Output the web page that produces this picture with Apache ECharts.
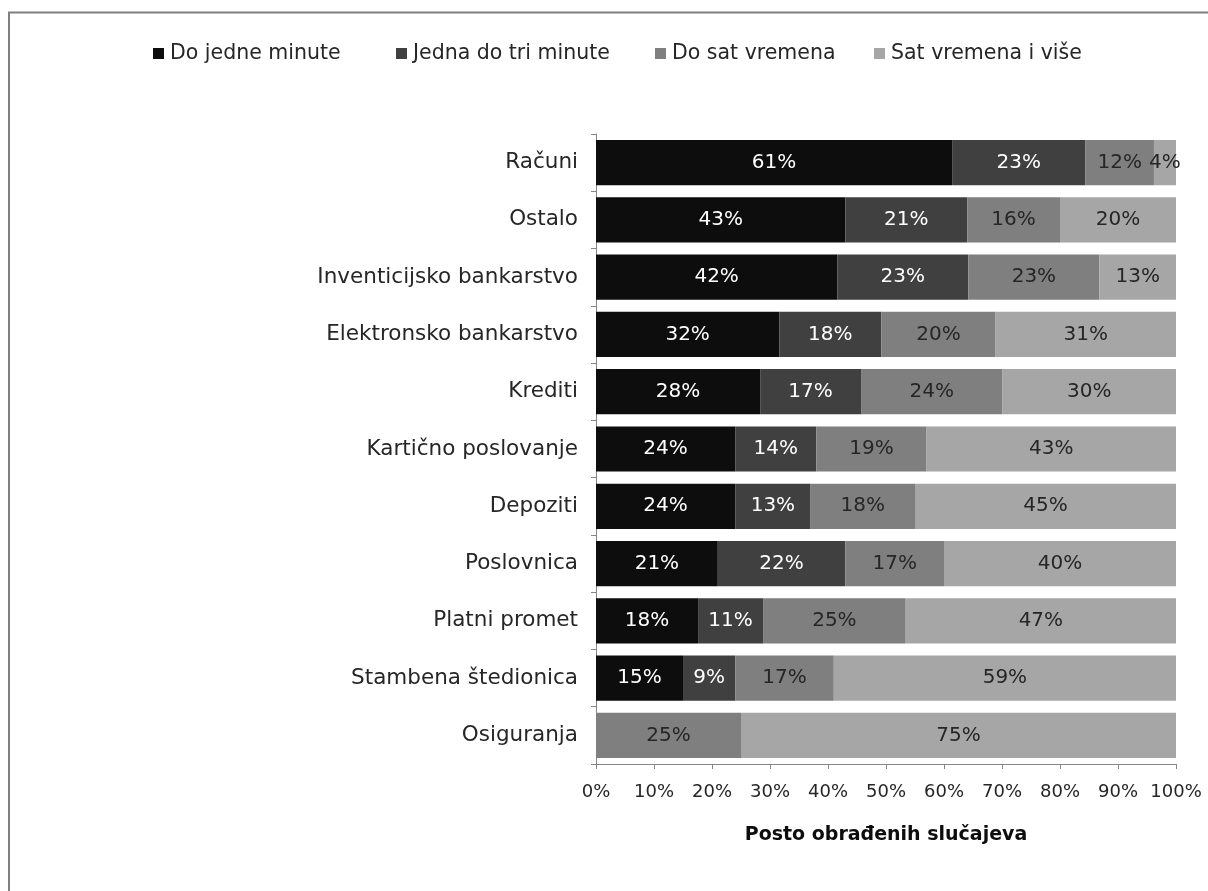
<!DOCTYPE html>
<html>
<head>
<meta charset="utf-8">
<script src="https://cdn.jsdelivr.net/npm/echarts@6/dist/echarts.min.js"></script>
<style>
html,body{margin:0;padding:0;background:#fff;}
#chart{width:1208px;height:891px;}
</style>
</head>
<body>
<div id="chart"></div>
<script>
const categories = ['Računi','Ostalo','Inventicijsko bankarstvo','Elektronsko bankarstvo','Krediti','Kartično poslovanje','Depoziti','Poslovnica','Platni promet','Stambena štedionica','Osiguranja'];
const seriesNames = ['Do jedne minute','Jedna do tri minute','Do sat vremena','Sat vremena i više'];
const doJedneMinute   = [61.4, 43, 41.6, 31.6, 28.3, 24, 24, 21, 17.6, 15, 0];
const jednaDoTri      = [23,   21, 22.6, 17.6, 17.4, 14, 13, 22, 11.2, 9,  0];
const doSatVremena    = [11.8, 16, 22.6, 19.7, 24.4, 19, 18, 17, 24.6, 17, 25];
const satVremenaIVise = [3.8,  20, 13.2, 31.1, 29.9, 43, 45, 40, 46.6, 59, 75];
const xTicks = [0,10,20,30,40,50,60,70,80,90,100];

const colors = ['#0d0d0d','#404040','#7f7f7f','#a6a6a6'];
const labelColors = ['#ffffff','#ffffff','#262626','#262626'];
const values = [doJedneMinute, jednaDoTri, doSatVremena, satVremenaIVise];
const FONT = 'DejaVu Sans';

const chart = echarts.init(document.getElementById('chart'));
const legendLefts = [148, 391, 650, 869];
chart.setOption({
  animation: false,
  backgroundColor: '#ffffff',
  textStyle: {fontFamily: FONT},
  graphic: [
    {type:'line', shape:{x1:8, y1:12.5, x2:1208, y2:12.5}, style:{stroke:'#7f7f7f', lineWidth:2}},
    {type:'line', shape:{x1:9, y1:12, x2:9, y2:891}, style:{stroke:'#7f7f7f', lineWidth:2}}
  ],
  legend: seriesNames.map((n,i)=>({
    data:[n], left: legendLefts[i], top: 38,
    itemWidth: 11, itemHeight: 11, itemGap: 6,
    icon: 'rect',
    textStyle:{fontFamily:FONT, fontSize:20.5, color:'#262626', padding:[0,0,0,1]}
  })),
  grid: {left: 596, right: 32, top: 134, bottom: 127, containLabel: false},
  xAxis: {
    type: 'value', min: xTicks[0], max: xTicks[xTicks.length-1], interval: 10,
    axisLine: {show: true, lineStyle: {color: '#868686', width: 1}},
    axisTick: {show: true, length: 5, lineStyle: {color: '#868686'}},
    splitLine: {show: false},
    axisLabel: {formatter: '{value}%', fontFamily: FONT, fontSize: 18, color: '#262626', margin: 19},
    name: 'Posto obrađenih slučajeva', nameLocation: 'middle', nameGap: 62,
    nameTextStyle: {fontFamily: FONT, fontSize: 19, fontWeight: 'bold', color: '#0d0d0d'}
  },
  yAxis: {
    type: 'category', data: categories, inverse: true,
    axisLine: {show: true, lineStyle: {color: '#868686', width: 1}},
    axisTick: {show: true, length: 5, lineStyle: {color: '#868686'}},
    axisLabel: {fontFamily: FONT, fontSize: 21.5, color: '#262626', margin: 18}
  },
  series: seriesNames.map((n,i)=>({
    name: n, type: 'bar', stack: 'total', data: values[i],
    barCategoryGap: '21%',
    itemStyle: {color: colors[i]},
    label: {
      show: true, position: 'inside', color: labelColors[i],
      fontFamily: FONT, fontSize: 20,
      formatter: p => p.value > 0 ? Math.round(p.value) + '%' : ''
    }
  }))
});
</script>
</body>
</html>
